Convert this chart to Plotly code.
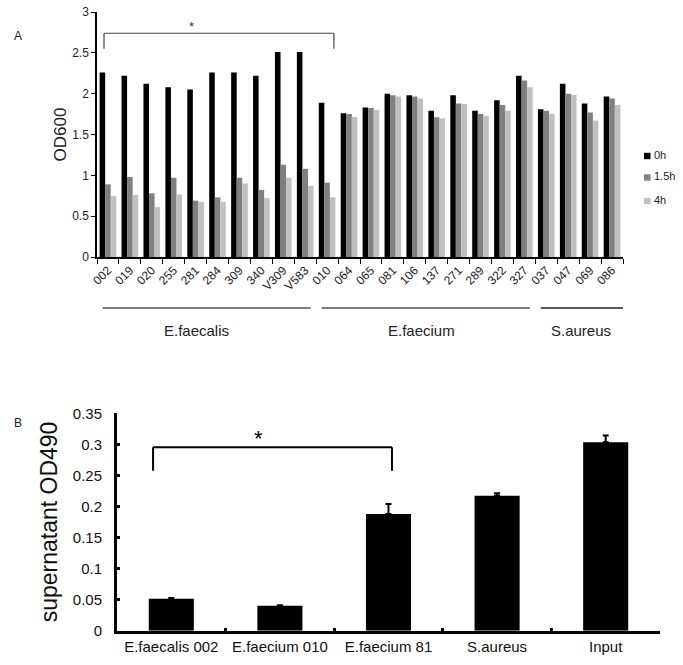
import plotly.graph_objects as go

# ---------------- Panel A data ----------------
strains = ["002", "019", "020", "255", "281", "284", "309", "340", "V309", "V583",
           "010", "064", "065", "081", "106", "137", "271", "289", "322", "327",
           "037", "047", "069", "086"]
od_0h = [2.26, 2.22, 2.12, 2.08, 2.05, 2.26, 2.26, 2.22, 2.51, 2.51,
         1.89, 1.76, 1.83, 2.00, 1.98, 1.79, 1.98, 1.79, 1.92, 2.22,
         1.81, 2.12, 1.88, 1.965]
od_15h = [0.89, 0.98, 0.78, 0.97, 0.69, 0.73, 0.97, 0.82, 1.13, 1.08,
          0.91, 1.75, 1.825, 1.98, 1.965, 1.71, 1.88, 1.75, 1.86, 2.16,
          1.79, 2.00, 1.77, 1.94]
od_4h = [0.745, 0.76, 0.61, 0.765, 0.675, 0.675, 0.90, 0.72, 0.97, 0.87,
         0.73, 1.715, 1.80, 1.965, 1.94, 1.695, 1.875, 1.73, 1.79, 2.08,
         1.75, 1.985, 1.67, 1.86]
series_names = ["0h", "1.5h", "4h"]
series_colors = ["#000000", "#808080", "#c0c0c0"]
species = ["E.faecalis", "E.faecium", "S.aureus"]
species_sizes = [10, 10, 4]

# ---------------- Panel B data ----------------
samples = ["E.faecalis 002", "E.faecium 010", "E.faecium 81", "S.aureus", "Input"]
od490 = [0.0515, 0.040, 0.188, 0.2174, 0.3033]
od490_err = [0.001, 0.001, 0.016, 0.004, 0.011]

FONT = "Liberation Sans, Arial, sans-serif"
W, H = 683, 665

fig = go.Figure()

for name, vals, col in zip(series_names, [od_0h, od_15h, od_4h], series_colors):
    fig.add_trace(go.Bar(x=strains, y=vals, name=name, marker_color=col,
                         marker_line_width=0, showlegend=False,
                         xaxis="x", yaxis="y"))

fig.add_trace(go.Bar(x=samples, y=od490, name="OD490", marker_color="#000000",
                     marker_line_width=0, width=0.415, showlegend=False,
                     error_y=dict(type="data", array=od490_err,
                                  arrayminus=[0] * len(od490_err), symmetric=False,
                                  color="#000000", thickness=2, width=3),
                     xaxis="x2", yaxis="y2"))


def px_x(p):
    return p / W


def px_y(p):
    return (H - p) / H


shapes = []
annotations = []

# Panel A significance bracket
shapes += [
    dict(type="line", xref="x", yref="y", x0=-0.18, x1=-0.18, y0=2.55, y1=2.74,
         line=dict(color="#444", width=1.2)),
    dict(type="line", xref="x", yref="y", x0=-0.18, x1=10.31, y0=2.74, y1=2.74,
         line=dict(color="#444", width=1.2)),
    dict(type="line", xref="x", yref="y", x0=10.31, x1=10.31, y0=2.55, y1=2.74,
         line=dict(color="#444", width=1.2)),
]
annotations.append(dict(text="*", xref="x", yref="y", x=3.79, y=2.82,
                        showarrow=False, font=dict(size=13, color="#333", family=FONT)))

# Species group lines and labels under panel A
label_x = [4.05, 14.3, 21.6]
start = 0
for i, (sp, n) in enumerate(zip(species, species_sizes)):
    x0 = start - 0.25
    x1 = start + n - 1 + 0.25 if i < len(species) - 1 else len(strains) - 0.5
    shapes.append(dict(type="line", xref="x", yref="paper", x0=x0, x1=x1,
                       y0=px_y(308), y1=px_y(308),
                       line=dict(color="#555" if i < 2 else "#222", width=1.5)))
    annotations.append(dict(text=sp, xref="x", yref="paper", x=label_x[i], y=px_y(330),
                            showarrow=False, font=dict(size=15, color="#222", family=FONT)))
    start += n

# Legend for panel A (compact, like the reference)
legend_rows = [156, 177.5, 201]
for name, col, yc in zip(series_names, series_colors, legend_rows):
    shapes.append(dict(type="rect", xref="paper", yref="paper",
                       x0=px_x(644), x1=px_x(650.5), y0=px_y(yc + 3.2), y1=px_y(yc - 3.2),
                       fillcolor=col, line=dict(width=0)))
    annotations.append(dict(text=name, xref="paper", yref="paper", x=px_x(651.5),
                            y=px_y(yc - 1), xanchor="left", yanchor="middle",
                            showarrow=False,
                            font=dict(size=11, color="#222", family=FONT)))

# Panel B significance bracket
shapes += [
    dict(type="line", xref="x2", yref="y2", x0=-0.168, x1=-0.168, y0=0.2577, y1=0.2953,
         line=dict(color="#000", width=2)),
    dict(type="line", xref="x2", yref="y2", x0=-0.168, x1=2.032, y0=0.2953, y1=0.2953,
         line=dict(color="#000", width=2)),
    dict(type="line", xref="x2", yref="y2", x0=2.032, x1=2.032, y0=0.2577, y1=0.2953,
         line=dict(color="#000", width=2)),
]
annotations.append(dict(text="*", xref="x2", yref="y2", x=0.807, y=0.309,
                        showarrow=False, font=dict(size=22, color="#000", family=FONT)))

# Panel letters
annotations.append(dict(text="A", xref="paper", yref="paper", x=px_x(12), y=px_y(27),
                        showarrow=False, font=dict(size=12, color="#222", family=FONT)))
annotations.append(dict(text="B", xref="paper", yref="paper", x=px_x(12), y=px_y(423),
                        showarrow=False, font=dict(size=12, color="#222", family=FONT)))

fig.update_layout(
    width=W, height=H,
    margin=dict(l=0, r=0, t=0, b=0, pad=0),
    paper_bgcolor="white", plot_bgcolor="white",
    font=dict(family=FONT, color="#222"),
    barmode="group", bargap=0.24, bargroupgap=0,
    showlegend=False,
    shapes=shapes, annotations=annotations,
    xaxis=dict(domain=[px_x(97), px_x(623)], anchor="y", type="category",
               range=[-0.5, len(strains) - 0.5], showline=True, linecolor="#000",
               linewidth=1.5, ticks="outside", ticklen=5, tickwidth=1.2,
               tickcolor="#000", tickson="boundaries", tickangle=-45,
               tickfont=dict(size=12, color="#222"), showgrid=False, zeroline=False,
               automargin=False),
    yaxis=dict(domain=[px_y(257), px_y(12)], anchor="x", range=[0, 3], dtick=0.5,
               showline=True, linecolor="#000", linewidth=1.5, ticks="outside",
               ticklen=4, tickwidth=1.2, tickcolor="#000",
               tickfont=dict(size=12, color="#222"), showgrid=False, zeroline=False,
               automargin=False,
               title=dict(text="OD600", font=dict(size=17, color="#222"), standoff=1)),
    xaxis2=dict(domain=[px_x(117), px_x(660)], anchor="y2", type="category",
                range=[-0.5, len(samples) - 0.5], showline=True, linecolor="#000",
                linewidth=3, ticks="inside", ticklen=3, tickwidth=3, tickcolor="#000",
                tickson="boundaries", tickangle=0, tickfont=dict(size=15, color="#111"),
                showgrid=False, zeroline=False, automargin=False),
    yaxis2=dict(domain=[px_y(630.7), px_y(413.3)], anchor="x2", range=[0, 0.35],
                dtick=0.05, showline=True, linecolor="#000", linewidth=3,
                ticks="inside", ticklen=3, tickwidth=3, tickcolor="#000",
                tickfont=dict(size=15, color="#111"), ticklabelstandoff=9,
                showgrid=False, zeroline=False, automargin=False,
                title=dict(text="supernatant OD490", font=dict(size=23, color="#111"),
                           standoff=9)),
)

fig.write_html(
    "out.html",
    config={"displayModeBar": False},
    post_script="document.body.style.margin='0';document.body.style.overflow='hidden';",
)
